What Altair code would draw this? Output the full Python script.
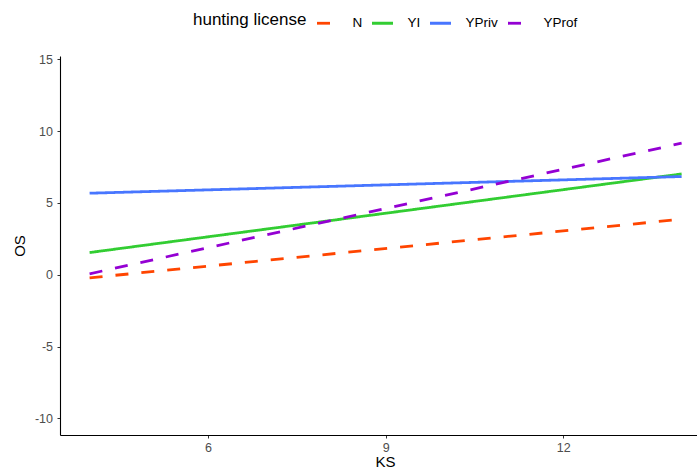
import altair as alt
import pandas as pd

# Fitted OS values at the ends of the KS range, one line per licence group
ks = [4, 14]
license_groups = ["N", "YI", "YPriv", "YProf"]
os_n = [-0.21, 3.87]
os_yi = [1.55, 7.02]
os_ypriv = [5.68, 6.84]
os_yprof = [0.07, 9.16]

line_colors = ["#FF4500", "#32CD32", "#4876FF", "#9400D3"]
line_dashes = [[13, 13], [1, 0], [1, 0], [13, 13]]
x_ticks = [6, 9, 12]
y_ticks = [-10, -5, 0, 5, 10, 15]

rows = []
for group, values in zip(license_groups, [os_n, os_yi, os_ypriv, os_yprof]):
    for k, v in zip(ks, values):
        rows.append({"KS": k, "OS": v, "license": group})
df = pd.DataFrame(rows)

legend = alt.Legend(
    orient="none",
    legendX=133,
    legendY=-45,
    direction="horizontal",
    titleOrient="left",
    titleFontSize=17,
    titleFontWeight="normal",
    titleColor="black",
    titlePadding=8.5,
    labelFontSize=13.5,
    labelColor="black",
    labelOffset=13,
    columnPadding=3,
    symbolType="stroke",
    symbolSize=441,
    symbolStrokeWidth=2.8,
)

chart = (
    alt.Chart(df)
    .mark_line(strokeWidth=2.8, strokeCap="butt")
    .encode(
        x=alt.X(
            "KS:Q",
            title="KS",
            scale=alt.Scale(domain=[3.5, 14.26], nice=False, zero=False),
            axis=alt.Axis(
                values=x_ticks,
                labelExpr="'' + datum.value",
                labelFontSize=12.5,
                labelColor="#4D4D4D",
                labelPadding=3,
                tickSize=3,
                tickColor="#333333",
                titleFontSize=15,
                titleFontWeight="normal",
                titleColor="black",
                titlePadding=1,
                titleX=325,
            ),
        ),
        y=alt.Y(
            "OS:Q",
            title="OS",
            scale=alt.Scale(domain=[-11.15, 15.23], nice=False, zero=False),
            axis=alt.Axis(
                values=y_ticks,
                labelExpr="'' + datum.value",
                labelFontSize=12.5,
                labelColor="#4D4D4D",
                labelPadding=4.5,
                tickSize=3,
                tickColor="#333333",
                titleFontSize=15,
                titleFontWeight="normal",
                titleColor="black",
                titlePadding=7,
            ),
        ),
        color=alt.Color(
            "license:N",
            title="hunting license",
            scale=alt.Scale(domain=license_groups, range=line_colors),
            legend=legend,
        ),
        strokeDash=alt.StrokeDash(
            "license:N",
            title="hunting license",
            scale=alt.Scale(domain=license_groups, range=line_dashes),
            legend=legend,
        ),
    )
    .properties(
        width=637,
        height=379,
        padding={"left": 60, "top": 56, "right": 0, "bottom": 33},
        autosize=alt.AutoSizeParams(type="none"),
    )
    .configure(font="Liberation Sans")
    .configure_view(stroke=None)
    .configure_axis(grid=False, domainColor="black", domainWidth=1.1)
)

chart.save("out.html", embed_options={"renderer": "svg", "actions": False})
